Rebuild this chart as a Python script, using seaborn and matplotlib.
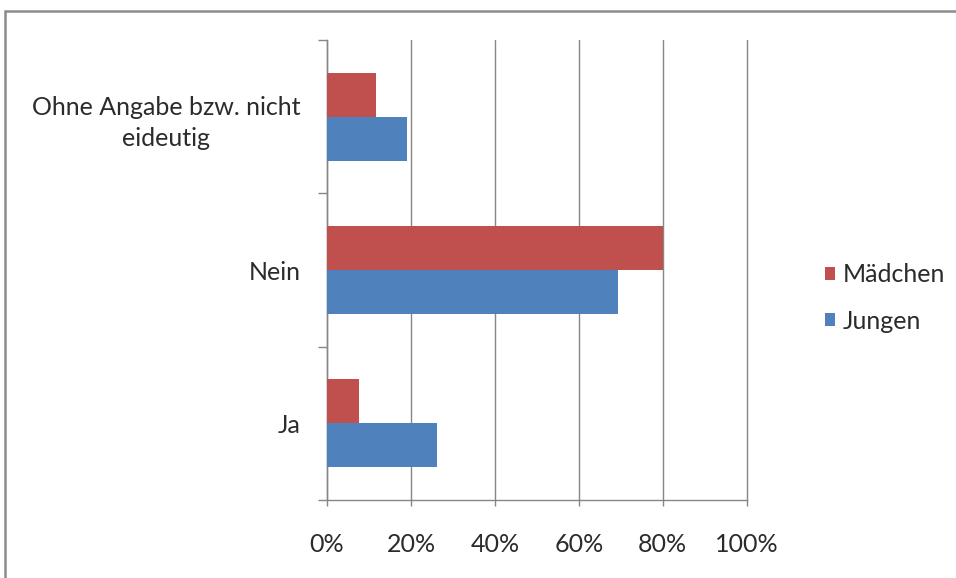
import matplotlib
matplotlib.use("Agg")
import matplotlib.pyplot as plt
import matplotlib.patches as mpatches
import seaborn as sns
import pandas as pd

# Survey answers by group (share in %)
categories = ["Ohne Angabe bzw. nicht\neideutig", "Nein", "Ja"]
groups = ["Mädchen", "Jungen"]
maedchen = [11.7, 80.0, 7.7]
jungen = [19.0, 69.4, 26.3]
x_ticks = [0, 20, 40, 60, 80, 100]
x_tick_labels = ["0%", "20%", "40%", "60%", "80%", "100%"]

df = pd.DataFrame({
    "Kategorie": categories * 2,
    "Gruppe": [groups[0]] * len(categories) + [groups[1]] * len(categories),
    "Anteil": maedchen + jungen,
})

sns.set_theme(style="white")
plt.rcParams["font.family"] = ["Lato", "DejaVu Sans"]

FS = 18
TXT = "#2b2b2b"

fig = plt.figure(figsize=(9.56, 5.78), dpi=100)
W, H = 956, 578
ax = fig.add_axes([327 / W, 1 - 500 / H, (746.7 - 327) / W, (500 - 40) / H])

palette = {"Mädchen": "#C0504D", "Jungen": "#4F81BD"}
sns.barplot(data=df, y="Kategorie", x="Anteil", hue="Gruppe",
            order=categories, hue_order=groups, palette=palette,
            orient="h", width=0.575, saturation=1, ax=ax, legend=False,
            linewidth=0, zorder=3)

ax.set_xlim(0, 100)
ax.set_ylim(2.5, -0.5)
ax.set_xticks(x_ticks)
ax.set_xticklabels(x_tick_labels)
ax.set_xlabel("")
ax.set_ylabel("")

grey = "#868686"
ax.grid(axis="x", color=grey, linewidth=1.0, zorder=0)
ax.grid(axis="y", visible=False)
for gl in ax.get_xgridlines():
    gl.set_clip_on(False)
for s in ["top", "right"]:
    ax.spines[s].set_visible(False)
for s in ["left", "bottom"]:
    ax.spines[s].set_color(grey)
    ax.spines[s].set_linewidth(1.0)

ax.set_yticks([-0.5, 0.5, 1.5, 2.5], minor=True)
ax.tick_params(axis="y", which="minor", left=True, length=6.5, width=1.0,
               color=grey)
ax.tick_params(axis="y", which="major", left=True, length=0, pad=19,
               labelsize=FS, labelcolor=TXT)
ax.tick_params(axis="x", which="major", bottom=True, length=4.5, width=1.0,
               color=grey, pad=19, labelsize=FS, labelcolor=TXT)
for lbl in ax.get_yticklabels():
    lbl.set_multialignment("center")
    lbl.set_linespacing(1.45)

handles = [mpatches.Patch(facecolor=palette[g], edgecolor="none", label=g)
           for g in groups]
fig.legend(handles=handles, loc="center left",
           bbox_to_anchor=(812 / W, 1 - 298 / H), frameon=False,
           fontsize=FS, handlelength=0.42, handleheight=0.42,
           handletextpad=0.3, labelspacing=0.95, borderpad=0,
           labelcolor=TXT)

# Outer chart frame
frame = mpatches.Rectangle((4.5 / W, -0.05), 1.1, 1 - 11 / H + 0.05,
                           transform=fig.transFigure, fill=False,
                           edgecolor="#8c8c8c", linewidth=1.8)
fig.patches.append(frame)

fig.savefig("out.png", dpi=100)
